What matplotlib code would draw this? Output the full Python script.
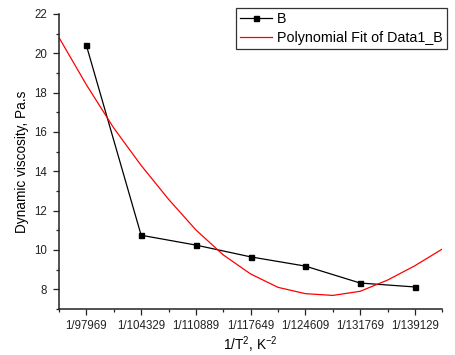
import numpy as np
import matplotlib.pyplot as plt
from matplotlib.ticker import FixedLocator, MultipleLocator

plt.rcParams['font.family'] = ['Liberation Sans', 'DejaVu Sans']
plt.rcParams['mathtext.fontset'] = 'custom'
plt.rcParams['mathtext.rm'] = 'Liberation Sans'
plt.rcParams['mathtext.it'] = 'Liberation Sans'

# squared temperatures, K^2 (313 ... 373 K)
t_squared = ["97969", "104329", "110889", "117649", "124609", "131769", "139129"]
viscosity = [20.4, 10.75, 10.25, 9.65, 9.18, 8.32, 8.12]

# polynomial fit curve, sampled on the category axis
fit_pos = [0.5, 1.0, 1.5, 2.0, 2.5, 3.0, 3.5, 4.0, 4.5, 5.0, 5.5, 6.0, 6.5, 7.0, 7.5]
fit_val = [20.8, 18.4, 16.2, 14.3, 12.58, 11.02, 9.75, 8.78, 8.1, 7.78,
           7.69, 7.9, 8.47, 9.2, 10.05]

pos = np.arange(1, len(t_squared) + 1)
labels = ["1/" + t for t in t_squared]

fig = plt.figure(figsize=(4.55, 3.55), dpi=100)
ax = fig.add_axes([0.1297, 0.1296, 0.8424, 0.831])

line_b, = ax.plot(pos, viscosity, color="black", lw=0.9, marker="s",
                  markersize=3.6, label="B")
line_fit, = ax.plot(fit_pos, fit_val, color="#ff0000", lw=0.9,
                    label="Polynomial Fit of Data1_B")

ax.set_xlim(0.5, 7.5)
ax.set_ylim(7, 22)
ax.xaxis.set_major_locator(FixedLocator(pos))
ax.set_xticklabels(labels)
ax.xaxis.set_minor_locator(FixedLocator(np.arange(0.5, 8.0, 1.0)))
ax.yaxis.set_major_locator(FixedLocator(np.arange(8, 23, 2)))
ax.yaxis.set_minor_locator(MultipleLocator(1))

for side in ("top", "right"):
    ax.spines[side].set_visible(False)
for side in ("left", "bottom"):
    ax.spines[side].set_linewidth(1.1)
    ax.spines[side].set_color("#222222")

ax.tick_params(which="major", direction="out", length=4.5, width=0.9,
               labelsize=8.3, colors="#222222", pad=4)
ax.tick_params(which="minor", direction="out", length=2.5, width=0.9,
               colors="#222222")
ax.tick_params(axis="x", pad=3.5)

ax.set_xlabel(r"1/T$^{2}$, K$^{-2}$", fontsize=9.8, labelpad=2)
ax.set_ylabel("Dynamic viscosity, Pa.s", fontsize=9.8, labelpad=4)

leg = fig.legend(handles=[line_b, line_fit], loc="upper left",
                 bbox_to_anchor=(236 / 455, 1 - 8 / 355), fontsize=10.3,
                 frameon=True, fancybox=False, borderpad=0.3,
                 handlelength=2.2, handletextpad=0.35, labelspacing=0.3,
                 borderaxespad=0)
leg.get_frame().set_edgecolor("black")
leg.get_frame().set_linewidth(0.9)

fig.savefig("out.png", dpi=100)
